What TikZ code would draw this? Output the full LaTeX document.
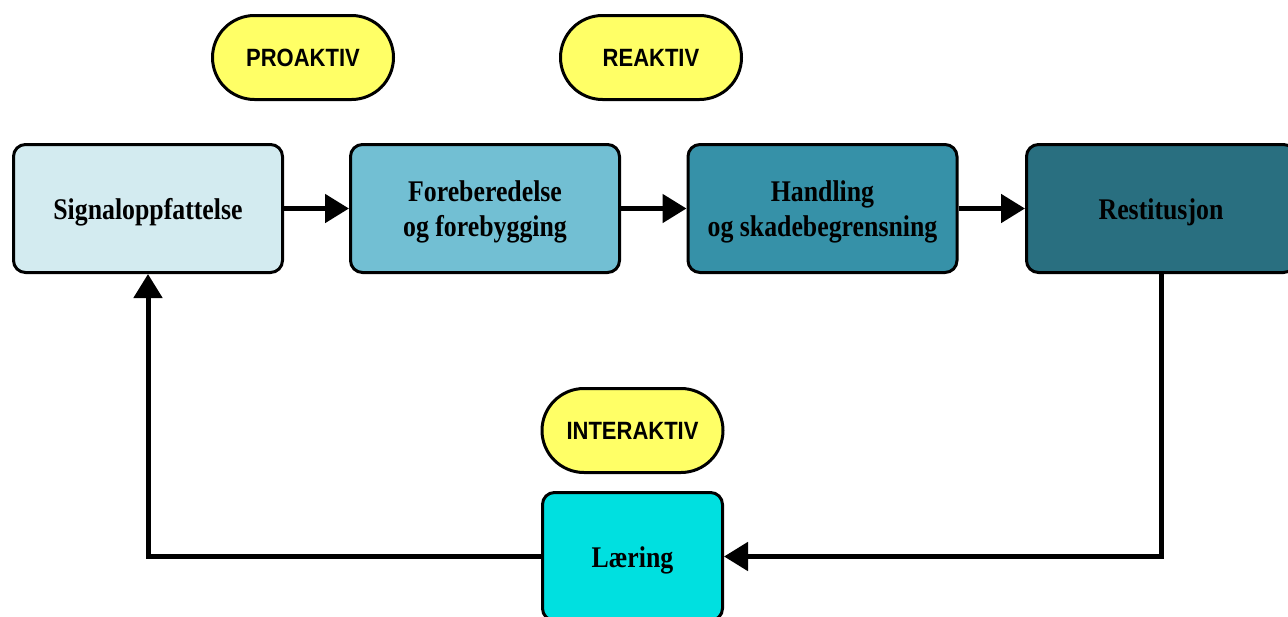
\documentclass[tikz,border=0pt]{standalone}
\usepackage{fontspec}
\newfontfamily\boxfont{Liberation Serif}[FakeStretch=0.86]
\newfontfamily\tagfont{Liberation Sans}[FakeStretch=0.88]
\usetikzlibrary{arrows.meta}
\definecolor{csig}{HTML}{D3EBF0}
\definecolor{cfor}{HTML}{72BFD3}
\definecolor{chand}{HTML}{3691A8}
\definecolor{crest}{HTML}{296F80}
\definecolor{clear}{HTML}{00E0E0}
\definecolor{cyel}{HTML}{FFFF66}
\newcommand\phasetext[1]{\raisebox{-3.5pt}[\height][\depth]{\begin{tabular}{@{}c@{}}#1\end{tabular}}}
\tikzset{
  phase/.style={draw=black, line width=3pt, rounded corners=12pt, minimum width=269pt, minimum height=128pt,
    inner sep=0pt, font=\boxfont\bfseries\fontsize{30}{35}\selectfont},
  tag/.style={draw=black, line width=3pt, rounded corners=42pt, fill=cyel, minimum width=181pt, minimum height=84pt,
    inner sep=0pt, font=\tagfont\bfseries\fontsize{25}{28}\selectfont},
  flow/.style={line width=5pt, -{Triangle[length=24pt,width=28pt]}},
}
\begin{document}
\begin{tikzpicture}[x=1pt,y=-1pt]
\useasboundingbox (0,0) rectangle (1288,616);
\node[tag] (pro) at (303,57.5) {PROAKTIV};
\node[tag] (rea) at (651,57.5) {REAKTIV};
\node[tag] (inter) at (632.5,430.5) {INTERAKTIV};
\node[phase, fill=csig] (sig) at (148,208.5) {\phasetext{Signaloppfattelse}};
\node[phase, fill=cfor] (fore) at (485,208.5) {\phasetext{Foreberedelse\\og forebygging}};
\node[phase, fill=chand] (hand) at (822.5,208.5) {\phasetext{Handling\\og skadebegrensning}};
\node[phase, fill=crest] (rest) at (1161,208.5) {\phasetext{Restitusjon}};
\node[phase, fill=clear, minimum width=180pt] (laer) at (632.5,556.5) {\phasetext{Læring}};
\draw[flow] (sig.east) -- (fore.west);
\draw[flow] (fore.east) -- (hand.west);
\draw[flow] (hand.east) -- (rest.west);
\draw[flow] (rest.south) |- (laer.east);
\draw[flow] (laer.west) -| (sig.south);
\end{tikzpicture}
\end{document}
